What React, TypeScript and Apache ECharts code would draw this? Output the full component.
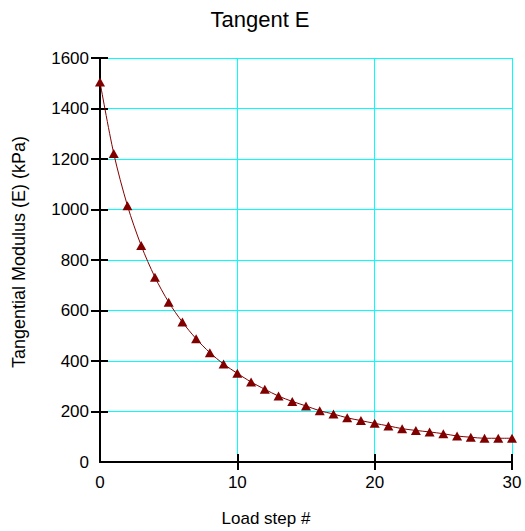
import React, { useEffect, useRef } from "react";
import * as echarts from "echarts";

const loadSteps: number[] = Array.from({ length: 31 }, (_, i) => i);
const tangentE: number[] = [
  1505, 1222, 1015, 857, 732, 633, 554, 488, 433, 388, 351, 317, 288, 261, 240,
  222, 203, 190, 175, 164, 153, 143, 132, 125, 119, 112, 103, 98, 94, 94, 94,
];
const yTicks: number[] = [200, 400, 600, 800, 1000, 1200, 1400, 1600];
const xTicks: number[] = [10, 20, 30];

const FONT = "'Liberation Sans', Arial, sans-serif";
const GRIDC = "#00ffff";

export default function App() {
  const ref = useRef<HTMLDivElement>(null);
  useEffect(() => {
    if (!ref.current) return;
    const chart = echarts.init(ref.current, undefined, { renderer: "svg" });
    const data = loadSteps.map((x, i) => [x, tangentE[i]]);
    const common = { min: 0, type: "value" as const };
    chart.setOption({
      animation: false,
      backgroundColor: "#ffffff",
      title: {
        text: "Tangent E",
        left: 255,
        top: 3,
        textAlign: "center",
        textStyle: { fontFamily: FONT, fontSize: 22, fontWeight: "normal", color: "#000" },
      },
      grid: { left: 100, right: 13, top: 58, bottom: 69, containLabel: false },
      graphic: [
        {
          type: "text",
          x: 19,
          y: 252,
          rotation: Math.PI / 2,
          style: {
            text: "Tangential Modulus (E) (kPa)",
            fontFamily: FONT,
            fontSize: 18,
            fill: "#000",
            align: "center",
            verticalAlign: "middle",
          },
        },
        {
          type: "text",
          x: 266,
          y: 518,
          style: {
            text: "Load step #",
            fontFamily: FONT,
            fontSize: 17,
            fill: "#000",
            align: "center",
            verticalAlign: "middle",
          },
        },
      ],
      xAxis: [
        {
          ...common,
          max: 30,
          interval: 10,
          axisLine: { show: true, onZero: false, lineStyle: { color: "#000", width: 2 } },
          axisTick: { show: true, inside: false, length: 8, customValues: xTicks, lineStyle: { color: "#000", width: 2 } },
          axisLabel: { margin: 12, fontFamily: FONT, fontSize: 17, color: "#000" },
          splitLine: { show: true, lineStyle: { color: GRIDC, width: 1 } },
        },
        {
          ...common,
          max: 30,
          interval: 10,
          position: "bottom",
          axisLine: { show: false },
          axisTick: { show: true, inside: true, length: 8, customValues: xTicks, lineStyle: { color: "#000", width: 2 } },
          axisLabel: { show: false },
          splitLine: { show: false },
        },
      ],
      yAxis: [
        {
          ...common,
          max: 1600,
          interval: 200,
          axisLine: { show: true, onZero: false, lineStyle: { color: "#000", width: 2 } },
          axisTick: { show: true, inside: false, length: 9, customValues: yTicks, lineStyle: { color: "#000", width: 2 } },
          axisLabel: { margin: 11, fontFamily: FONT, fontSize: 17, color: "#000", formatter: (v: number) => String(v) },
          splitLine: { show: true, lineStyle: { color: GRIDC, width: 1 } },
        },
        {
          ...common,
          max: 1600,
          interval: 200,
          position: "left",
          axisLine: { show: false },
          axisTick: { show: true, inside: true, length: 8, customValues: yTicks, lineStyle: { color: "#000", width: 2 } },
          axisLabel: { show: false },
          splitLine: { show: false },
        },
      ],
      series: [
        {
          type: "line",
          data,
          xAxisIndex: 0,
          yAxisIndex: 0,
          smooth: 0.3,
          symbol: "triangle",
          symbolSize: [10, 9],
          showSymbol: true,
          lineStyle: { color: "#800000", width: 1 },
          itemStyle: { color: "#800000", borderWidth: 0 },
          z: 5,
        },
      ],
    });
    return () => chart.dispose();
  }, []);
  return (
    <div
      ref={ref}
      style={{ position: "fixed", left: 0, top: 0, width: 525, height: 531 }}
    />
  );
}
